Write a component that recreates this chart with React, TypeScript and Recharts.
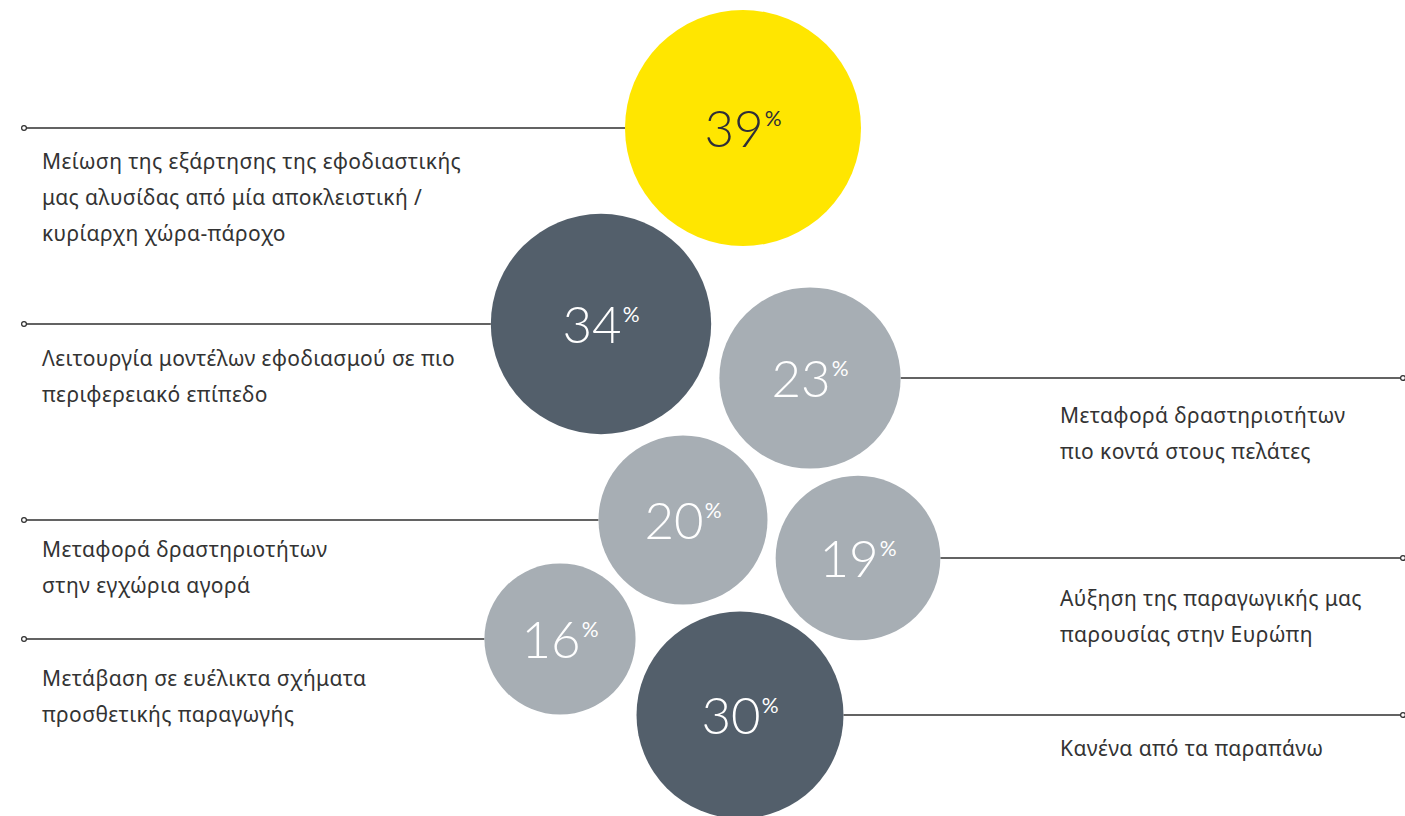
import React from "react";
import { ScatterChart, Scatter, XAxis, YAxis, ZAxis } from "recharts";

// values (%) and the wording beside each bubble
const values = [39, 34, 23, 20, 19, 16, 30];
const labels = [
  ["Μείωση της εξάρτησης της εφοδιαστικής", "μας αλυσίδας από μία αποκλειστική /", "κυρίαρχη χώρα-πάροχο"],
  ["Λειτουργία μοντέλων εφοδιασμού σε πιο", "περιφερειακό επίπεδο"],
  ["Μεταφορά δραστηριοτήτων", "πιο κοντά στους πελάτες"],
  ["Μεταφορά δραστηριοτήτων", "στην εγχώρια αγορά"],
  ["Αύξηση της παραγωγικής μας", "παρουσίας στην Ευρώπη"],
  ["Μετάβαση σε ευέλικτα σχήματα", "προσθετικής παραγωγής"],
  ["Κανένα από τα παραπάνω"],
];
// bubble placement in the packed layout
const bubbleX = [743, 601, 810, 683, 858, 560, 740];
const bubbleY = [128, 324, 378, 520, 558, 639, 715];
const sides = ["left", "left", "right", "left", "right", "left", "right"];
const tones = ["yellow", "dark", "light", "light", "light", "light", "dark"];

const W = 1405;
const H = 816;
const MAX_R = 118;
const LINE = "#2f2f2f";
const TEXT = "#333333";
const FILL: Record<string, string> = { yellow: "#FFE600", dark: "#535F6B", light: "#A7AEB4" };
// distance from leader line to first label line, per bubble
const labelDy = [33, 34, 37, 29, 40, 39, 33];

const data = values.map((value, i) => ({
  x: bubbleX[i],
  y: bubbleY[i],
  value,
  lines: labels[i],
  side: sides[i],
  tone: tones[i],
  dy: labelDy[i],
}));

function Bubble(props: any) {
  const { cx, cy, width, payload } = props;
  const r = width / 2;
  const left = payload.side === "left";
  const x1 = left ? 24 : cx + r;
  const x2 = left ? cx - r : W - 2;
  const textX = left ? 42 : 1060;
  const numColor = payload.tone === "yellow" ? "#2e2e38" : "#ffffff";
  return (
    <g>
      <line x1={x1} x2={x2} y1={cy} y2={cy} stroke={LINE} strokeWidth={1.4} />
      <circle cx={left ? x1 : x2} cy={cy} r={2.4} fill="#fff" stroke={LINE} strokeWidth={1.2} />
      <text fontFamily="'Noto Sans', sans-serif" fontSize={21} letterSpacing={0.4} fill={TEXT}>
        {payload.lines.map((t: string, k: number) => (
          <tspan key={k} x={textX} y={cy + payload.dy + 8 + k * 36}>
            {t}
          </tspan>
        ))}
      </text>
      <circle cx={cx} cy={cy} r={r} fill={FILL[payload.tone]} />
      <text
        x={cx}
        y={cy + 19}
        textAnchor="middle"
        fontFamily="Lato, 'Open Sans', sans-serif"
        fontWeight={300}
        fontSize={51}
        fill={numColor}
      >
        <tspan>{payload.value}</tspan>
        <tspan fontSize={21} fontWeight={400} dx={1} dy={-21}>%</tspan>
      </text>
    </g>
  );
}

export default function App() {
  return (
    <div style={{ position: "absolute", left: 0, top: 0, background: "#fff" }}>
      <ScatterChart width={W} height={H} margin={{ top: 0, right: 0, bottom: 0, left: 0 }}>
        <XAxis type="number" dataKey="x" domain={[0, W]} hide />
        <YAxis type="number" dataKey="y" domain={[0, H]} reversed hide />
        <ZAxis type="number" dataKey="value" domain={[0, 39]} range={[0, Math.PI * MAX_R * MAX_R]} />
        <Scatter data={data} shape={Bubble} isAnimationActive={false} />
      </ScatterChart>
    </div>
  );
}
